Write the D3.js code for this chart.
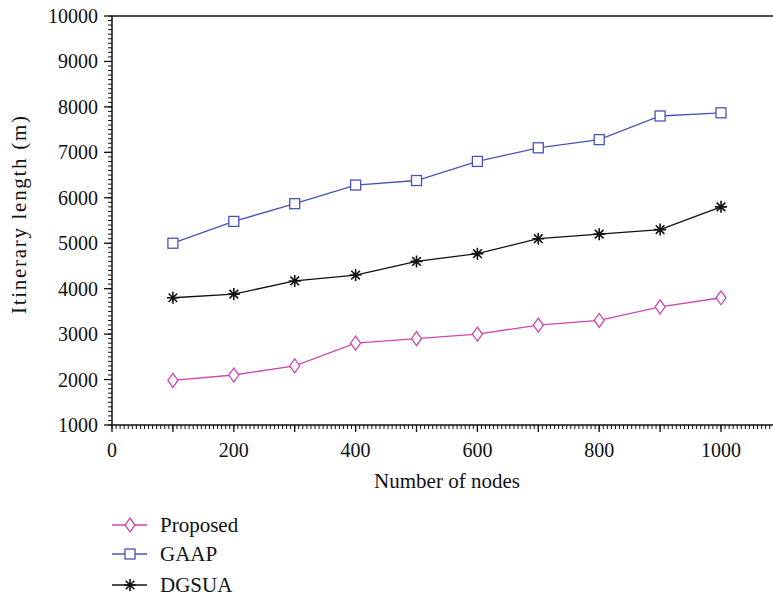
<!DOCTYPE html>
<html><head><meta charset="utf-8">
<script src="https://cdn.jsdelivr.net/npm/d3@7"></script>
<style>body{margin:0;background:#fff}svg{display:block}text{font-family:"Liberation Serif","Times New Roman",serif;fill:#111}</style>
</head><body><svg id="c" width="773" height="599"></svg>
<script>
const nodes = [100,200,300,400,500,600,700,800,900,1000];
const proposed = [1980,2100,2300,2800,2900,3000,3200,3300,3600,3800];
const gaap = [5000,5480,5870,6280,6380,6800,7100,7280,7800,7870];
const dgsua = [3800,3880,4170,4300,4600,4770,5100,5200,5300,5800];
const xTickLabels = [0,200,400,600,800,1000];
const yTickLabels = [1000,2000,3000,4000,5000,6000,7000,8000,9000,10000];
const seriesNames = ["Proposed","GAAP","DGSUA"];

const svg = d3.select("#c");
const x = d3.scaleLinear().domain([0,1000]).range([112,721]);
const y = d3.scaleLinear().domain([1000,10000]).range([425,16]);
const xEnd = 773;
const xMax = x.invert(xEnd);

const g = svg.append("g");
g.append("line").attr("x1",112).attr("x2",xEnd).attr("y1",y(1000)).attr("y2",y(1000)).attr("stroke","#111").attr("stroke-width",1.5);
g.append("line").attr("x1",112).attr("x2",xEnd).attr("y1",y(10000)).attr("y2",y(10000)).attr("stroke","#111").attr("stroke-width",1.5);
g.append("line").attr("x1",x(0)).attr("x2",x(0)).attr("y1",y(1000)).attr("y2",y(10000)).attr("stroke","#111").attr("stroke-width",1.5);

const xMinor = d3.range(0, xMax, 100/15);
g.selectAll(".xm").data(xMinor).enter().append("line")
 .attr("x1",d=>x(d)).attr("x2",d=>x(d)).attr("y1",y(1000)).attr("y2",y(1000)+4).attr("stroke","#111");
const xMajor = d3.range(0, xMax, 100);
g.selectAll(".xM").data(xMajor).enter().append("line")
 .attr("x1",d=>x(d)).attr("x2",d=>x(d)).attr("y1",y(1000)).attr("y2",y(1000)+7).attr("stroke","#111").attr("stroke-width",1.3);
g.selectAll(".xl").data(xTickLabels).enter().append("text")
 .attr("x",d=>x(d)).attr("y",y(1000)+32).attr("text-anchor","middle").attr("font-size",20).text(d=>d);

const yMinor = d3.range(1000, 10001, 100);
g.selectAll(".ym").data(yMinor).enter().append("line")
 .attr("x1",x(0)-4).attr("x2",x(0)).attr("y1",d=>y(d)).attr("y2",d=>y(d)).attr("stroke","#111");
g.selectAll(".yM").data(yTickLabels).enter().append("line")
 .attr("x1",x(0)-8).attr("x2",x(0)).attr("y1",d=>y(d)).attr("y2",d=>y(d)).attr("stroke","#111").attr("stroke-width",1.3);
g.selectAll(".yl").data(yTickLabels).enter().append("text")
 .attr("x",x(0)-14).attr("y",d=>y(d)+7).attr("text-anchor","end").attr("font-size",20).text(d=>d);

svg.append("text").attr("x",447).attr("y",488).attr("text-anchor","middle").attr("font-size",21).text("Number of nodes");
svg.append("text").attr("transform","translate(26,215) rotate(-90)").attr("text-anchor","middle").attr("font-size",21)
 .attr("textLength",198).attr("lengthAdjust","spacing").text("Itinerary length (m)");

const colors = ["#cc47b0","#4a52b8","#111111"];
const data = [proposed,gaap,dgsua];
const line = d3.line().x((d,i)=>x(nodes[i])).y(d=>y(d));

function marker(sel, type, color){
  if(type===0){
    sel.append("path").attr("d","M0,-7L5,0L0,7L-5,0Z").attr("fill","#fff").attr("stroke",color).attr("stroke-width",1.3);
  } else if(type===1){
    sel.append("rect").attr("x",-5).attr("y",-5).attr("width",10).attr("height",10).attr("fill","#fff").attr("stroke",color).attr("stroke-width",1.3);
  } else {
    sel.append("path").attr("d","M0,-6V6M-6,0H6M-4.3,-4.3L4.3,4.3M-4.3,4.3L4.3,-4.3").attr("stroke",color).attr("stroke-width",1.6);
  }
}

data.forEach((vals,k)=>{
  svg.append("path").datum(vals).attr("d",line).attr("fill","none").attr("stroke",colors[k]).attr("stroke-width",1.3);
  vals.forEach((v,i)=>{
    const m = svg.append("g").attr("transform",`translate(${x(nodes[i])},${y(v)})`);
    marker(m,k,colors[k]);
  });
});

const legY = [525,554,585];
seriesNames.forEach((n,k)=>{
  svg.append("line").attr("x1",112).attr("x2",147).attr("y1",legY[k]).attr("y2",legY[k]).attr("stroke",colors[k]).attr("stroke-width",1.3);
  const m = svg.append("g").attr("transform",`translate(130,${legY[k]})`);
  marker(m,k,colors[k]);
  svg.append("text").attr("x",160).attr("y",legY[k]+7).attr("font-size",21).text(n);
});
</script></body></html>
